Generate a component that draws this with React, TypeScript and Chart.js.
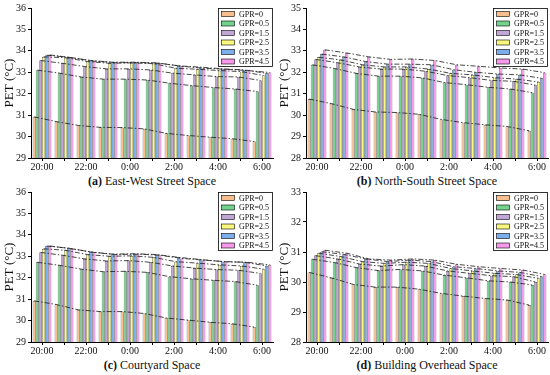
import React, { useEffect, useRef } from 'react';
import { Chart, registerables } from 'chart.js';

Chart.register(...registerables);

const FONT = "'Liberation Serif', 'Times New Roman', serif";

const CATEGORIES = ['20:00', '21:00', '22:00', '23:00', '0:00', '1:00', '2:00', '3:00', '4:00', '5:00', '6:00'];
const SHOWN_TICKS = ['20:00', '22:00', '0:00', '2:00', '4:00', '6:00'];
const SERIES_LABELS = ['GPR=0', 'GPR=0.5', 'GPR=1.5', 'GPR=2.5', 'GPR=3.5', 'GPR=4.5'];
const SERIES_COLORS = ['#F8BE8E', '#72D48C', '#C2A6D8', '#F9F77C', '#7BAFEC', '#F699EA'];

// (a) East-West Street Space
const eastWestPET = [
  [30.92, 30.7, 30.52, 30.43, 30.42, 30.36, 30.15, 30.05, 29.97, 29.9, 29.77],
  [33.1, 32.96, 32.78, 32.68, 32.68, 32.64, 32.49, 32.38, 32.29, 32.22, 32.1],
  [33.55, 33.42, 33.27, 33.16, 33.16, 33.11, 32.96, 32.88, 32.8, 32.78, 32.62],
  [33.72, 33.68, 33.5, 33.42, 33.44, 33.4, 33.19, 33.14, 33.08, 33.03, 32.85],
  [33.8, 33.7, 33.55, 33.47, 33.47, 33.44, 33.3, 33.24, 33.16, 33.11, 32.95],
  [33.81, 33.68, 33.52, 33.45, 33.45, 33.42, 33.28, 33.19, 33.14, 33.08, 32.99],
];
// (b) North-South Street Space
const northSouthPET = [
  [30.75, 30.54, 30.27, 30.15, 30.12, 30.04, 29.8, 29.65, 29.55, 29.47, 29.27],
  [32.35, 32.18, 31.95, 31.82, 31.82, 31.74, 31.52, 31.42, 31.3, 31.22, 31.05],
  [32.6, 32.45, 32.25, 32.15, 32.15, 32.05, 31.85, 31.75, 31.62, 31.58, 31.4],
  [32.7, 32.58, 32.35, 32.25, 32.25, 32.15, 31.95, 31.88, 31.75, 31.68, 31.55],
  [32.85, 32.72, 32.5, 32.38, 32.38, 32.35, 32.12, 32.0, 31.92, 31.88, 31.72],
  [33.05, 32.9, 32.72, 32.6, 32.62, 32.55, 32.35, 32.28, 32.2, 32.15, 31.98],
];
// (c) Courtyard Space
const courtyardPET = [
  [30.92, 30.75, 30.5, 30.42, 30.42, 30.33, 30.12, 30.02, 29.92, 29.85, 29.7],
  [32.72, 32.58, 32.4, 32.28, 32.3, 32.25, 32.05, 31.95, 31.88, 31.82, 31.65],
  [33.18, 33.05, 32.88, 32.78, 32.8, 32.72, 32.55, 32.45, 32.38, 32.35, 32.2],
  [33.35, 33.28, 33.08, 33.0, 33.02, 32.95, 32.75, 32.68, 32.6, 32.55, 32.4],
  [33.48, 33.38, 33.2, 33.1, 33.12, 33.08, 32.95, 32.85, 32.75, 32.72, 32.55],
  [33.48, 33.35, 33.18, 33.08, 33.1, 33.05, 32.9, 32.82, 32.75, 32.72, 32.6],
];
// (d) Building Overhead Space
const overheadPET = [
  [30.32, 30.14, 29.92, 29.83, 29.83, 29.76, 29.62, 29.53, 29.45, 29.4, 29.23],
  [30.76, 30.65, 30.48, 30.38, 30.42, 30.37, 30.23, 30.14, 30.04, 30.0, 29.9],
  [30.88, 30.77, 30.6, 30.53, 30.58, 30.53, 30.37, 30.29, 30.21, 30.18, 30.0],
  [30.96, 30.85, 30.68, 30.62, 30.66, 30.62, 30.45, 30.37, 30.29, 30.25, 30.12],
  [31.01, 30.92, 30.77, 30.68, 30.73, 30.68, 30.51, 30.45, 30.37, 30.32, 30.18],
  [31.06, 30.96, 30.77, 30.73, 30.77, 30.73, 30.59, 30.51, 30.45, 30.4, 30.25],
];

const dashLinePlugin = {
  id: 'dashLines',
  afterDatasetsDraw(chart: any) {
    const ctx = chart.ctx;
    ctx.save();
    ctx.strokeStyle = '#1a1a1a';
    ctx.lineWidth = 0.8;
    ctx.setLineDash([5, 2, 1.5, 2]);
    chart.data.datasets.forEach((_ds: any, i: number) => {
      const meta = chart.getDatasetMeta(i);
      ctx.beginPath();
      meta.data.forEach((el: any, j: number) => {
        if (j === 0) ctx.moveTo(el.x, el.y);
        else ctx.lineTo(el.x, el.y);
      });
      ctx.stroke();
    });
    ctx.restore();
  },
};

const boxLegendPlugin = {
  id: 'boxLegend',
  afterDraw(chart: any) {
    const ctx = chart.ctx;
    const area = chart.chartArea;
    const w = 55;
    const rowH = 9.5;
    const n = chart.data.datasets.length;
    const h = n * rowH + 2;
    const x0 = area.right - w;
    const y0 = area.top;
    ctx.save();
    ctx.fillStyle = '#fff';
    ctx.fillRect(x0, y0, w, h);
    ctx.strokeStyle = '#000';
    ctx.lineWidth = 0.8;
    ctx.strokeRect(x0 + 0.5, y0 + 0.5, w - 1, h - 1);
    ctx.font = `8px ${FONT}`;
    ctx.textBaseline = 'middle';
    chart.data.datasets.forEach((ds: any, i: number) => {
      const cy = y0 + 6 + i * rowH;
      ctx.fillStyle = ds.backgroundColor;
      ctx.fillRect(x0 + 3.5, cy - 2.5, 13, 5);
      ctx.strokeStyle = '#000';
      ctx.lineWidth = 0.6;
      ctx.strokeRect(x0 + 3.5, cy - 2.5, 13, 5);
      ctx.fillStyle = '#111';
      ctx.fillText(ds.label, x0 + 21, cy + 0.5);
    });
    ctx.restore();
  },
};

type PanelProps = {
  left: number;
  top: number;
  data: number[][];
  yMin: number;
  yMax: number;
  letter: string;
  title: string;
};

function Panel({ left, top, data, yMin, yMax, letter, title }: PanelProps) {
  const ref = useRef<HTMLCanvasElement | null>(null);
  useEffect(() => {
    if (!ref.current) return;
    const chart = new Chart(ref.current, {
      type: 'bar',
      data: {
        labels: CATEGORIES,
        datasets: SERIES_LABELS.map((label, i) => ({
          label,
          data: data[i],
          backgroundColor: SERIES_COLORS[i],
          borderColor: '#333',
          borderWidth: 0.6,
          categoryPercentage: 0.85,
          barPercentage: 1.0,
        })),
      },
      options: {
        responsive: false,
        animation: false,
        devicePixelRatio: 1,
        layout: { padding: { top: 8, right: 2, left: 0, bottom: 0 } },
        plugins: {
          legend: { display: false },
          tooltip: { enabled: false },
        },
        scales: {
          x: {
            type: 'category',
            offset: true,
            grid: {
              display: true,
              drawOnChartArea: false,
              drawTicks: true,
              tickLength: 3,
              color: '#000',
              offset: false,
            },
            border: { display: true, color: '#000', width: 1 },
            ticks: {
              autoSkip: false,
              maxRotation: 0,
              minRotation: 0,
              padding: 0,
              color: '#111',
              font: { family: FONT, size: 10 },
              callback: (_v: any, i: number) => (SHOWN_TICKS.includes(CATEGORIES[i]) ? CATEGORIES[i] : ''),
            },
            afterFit: (scale: any) => {
              scale.height = 14;
            },
          },
          y: {
            min: yMin,
            max: yMax,
            grid: {
              display: true,
              drawOnChartArea: false,
              drawTicks: true,
              tickLength: 3,
              color: '#000',
            },
            border: { display: true, color: '#000', width: 1 },
            ticks: {
              stepSize: 1,
              padding: 2,
              color: '#111',
              font: { family: FONT, size: 10 },
            },
            title: {
              display: true,
              text: 'PET (°C)',
              color: '#111',
              font: { family: FONT, size: 13 },
              padding: { top: 2, bottom: 0 },
            },
            afterFit: (scale: any) => {
              scale.width = 31;
            },
          },
        },
      },
      plugins: [dashLinePlugin, boxLegendPlugin],
    } as any);
    return () => chart.destroy();
  }, [data, yMin, yMax]);

  return (
    <div style={{ position: 'absolute', left, top, width: 275, height: 190 }}>
      <canvas ref={ref} width={275} height={172} style={{ display: 'block' }} />
      <div
        style={{
          position: 'absolute',
          top: 174,
          left: 31,
          width: 242,
          textAlign: 'center',
          fontFamily: FONT,
          fontSize: 12,
          lineHeight: '14px',
          color: '#111',
          whiteSpace: 'nowrap',
        }}
      >
        <b>{letter}</b> {title}
      </div>
    </div>
  );
}

export default function App() {
  return (
    <div style={{ position: 'fixed', left: 0, top: 0, width: 550, height: 375, background: '#fff', overflow: 'hidden' }}>
      <Panel left={0} top={0} data={eastWestPET} yMin={29} yMax={36} letter="(a)" title="East-West Street Space" />
      <Panel left={275} top={0} data={northSouthPET} yMin={28} yMax={35} letter="(b)" title="North-South Street Space" />
      <Panel left={0} top={184} data={courtyardPET} yMin={29} yMax={36} letter="(c)" title="Courtyard Space" />
      <Panel left={275} top={184} data={overheadPET} yMin={28} yMax={33} letter="(d)" title="Building Overhead Space" />
    </div>
  );
}
